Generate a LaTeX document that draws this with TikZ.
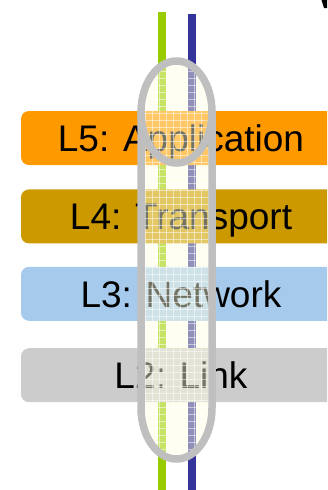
\documentclass[tikz,border=0pt]{standalone}
\usepackage{fontspec}
\setmainfont{Liberation Sans}
\usetikzlibrary{positioning}

\definecolor{appcol}{HTML}{FF9900}
\definecolor{transcol}{HTML}{CC9900}
\definecolor{netcol}{HTML}{A6CAEC}
\definecolor{linkcol}{HTML}{CCCCCC}
\definecolor{wiregreen}{HTML}{99CC00}
\definecolor{wireblue}{HTML}{333399}
\definecolor{tubefill}{HTML}{FFFFE0}
\definecolor{tubeline}{HTML}{BFBFBF}

\tikzset{
  layer/.style={rounded corners=8pt, minimum width=320pt, minimum height=54pt,
    inner sep=0pt, text height=27pt, text depth=0pt,
    font=\fontsize{37}{40}\selectfont},
  wire/.style={line width=8pt},
  tube/.style={draw=tubeline, line width=7.5pt},
}

\begin{document}
\begin{tikzpicture}[x=1pt, y=-1pt, node distance=24pt]
            % the frame
            \path[clip] (0,0) rectangle (327,490);
            % the wires
            \coordinate (gtop) at (162,12);
            \coordinate (gbot) at (162,495);
            \coordinate (btop) at (192,14);
            \coordinate (bbot) at (192,495);
            \draw[wire, wiregreen] (gtop) -- (gbot);
            \draw[wire, wireblue] (btop) -- (bbot);

            % the layers
            \node[layer, fill=appcol] (app) at (181,138) {L5: Application};
            \node[layer, fill=transcol, below=of app] (trans) {L4: Transport};
            \node[layer, fill=netcol, below=23pt of trans] (net) {L3: Network};
            \node[layer, fill=linkcol, below=27pt of net] (link) {L2: Link};

            % the corner mark
            \fill[black] (321.5,0) -- (327,0) -- (327,8) -- (324,8) -- cycle;

            % the tube
            \begin{scope}
                \path[clip] (141,112) -- (141,408)
                    arc[start angle=180, end angle=0, x radius=35.5, y radius=51]
                    -- (212,112)
                    arc[start angle=0, end angle=-180, x radius=35.5, y radius=51] -- cycle;
                \fill[tubefill, fill opacity=0.45] (130,50) rectangle (225,470);
                \foreach \k in {0,...,60} {
                    \draw[white, opacity=0.5, line width=0.6pt] (136, {57+7*\k}) -- (218, {57+7*\k});
                };
                \foreach \k in {0,...,11} {
                    \draw[white, opacity=0.5, line width=0.6pt] ({138+7*\k}, 55) -- ({138+7*\k}, 465);
                };
            \end{scope}
            \draw[tube] (141,112) -- (141,408)
                arc[start angle=180, end angle=0, x radius=35.5, y radius=51] -- (212,112);
            \draw[tube] (176.5,112) ellipse[x radius=35.5, y radius=51];
\end{tikzpicture}
\end{document}
